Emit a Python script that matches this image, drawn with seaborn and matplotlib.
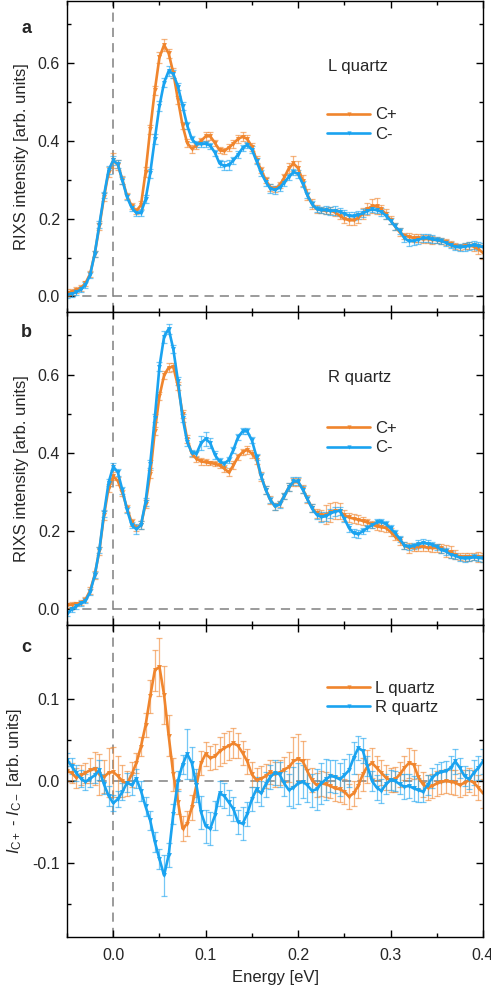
import matplotlib
matplotlib.use("Agg")
import matplotlib.pyplot as plt
import matplotlib.ticker as mticker
from matplotlib.lines import Line2D
import numpy as np
import pandas as pd
import seaborn as sns

# ---------------- data ----------------
energy = [
    -0.050, -0.045, -0.040, -0.035, -0.030, -0.025, -0.020, -0.015, -0.010, -0.005,
    0.000, 0.005, 0.010, 0.015, 0.020, 0.025, 0.030, 0.035, 0.040, 0.045,
    0.050, 0.055, 0.060, 0.065, 0.070, 0.075, 0.080, 0.085, 0.090, 0.095,
    0.100, 0.105, 0.110, 0.115, 0.120, 0.125, 0.130, 0.135, 0.140, 0.145,
    0.150, 0.155, 0.160, 0.165, 0.170, 0.175, 0.180, 0.185, 0.190, 0.195,
    0.200, 0.205, 0.210, 0.215, 0.220, 0.225, 0.230, 0.235, 0.240, 0.245,
    0.250, 0.255, 0.260, 0.265, 0.270, 0.275, 0.280, 0.285, 0.290, 0.295,
    0.300, 0.305, 0.310, 0.315, 0.320, 0.325, 0.330, 0.335, 0.340, 0.345,
    0.350, 0.355, 0.360, 0.365, 0.370, 0.375, 0.380, 0.385, 0.390, 0.395,
    0.400]

# panel a (L quartz)
a_cplus = [
    0.010, 0.012, 0.016, 0.022, 0.034, 0.058, 0.110, 0.180, 0.255, 0.320,
    0.350, 0.338, 0.300, 0.258, 0.232, 0.220, 0.235, 0.320, 0.430, 0.530,
    0.615, 0.647, 0.625, 0.575, 0.506, 0.440, 0.395, 0.380, 0.388, 0.400,
    0.412, 0.412, 0.395, 0.376, 0.374, 0.383, 0.393, 0.405, 0.411, 0.405,
    0.385, 0.352, 0.325, 0.300, 0.280, 0.277, 0.286, 0.306, 0.330, 0.342,
    0.330, 0.298, 0.262, 0.238, 0.225, 0.222, 0.220, 0.221, 0.216, 0.208,
    0.200, 0.196, 0.196, 0.202, 0.213, 0.225, 0.232, 0.232, 0.224, 0.212,
    0.196, 0.180, 0.165, 0.156, 0.154, 0.150, 0.150, 0.147, 0.148, 0.146,
    0.145, 0.142, 0.140, 0.134, 0.130, 0.128, 0.130, 0.131, 0.128, 0.122,
    0.112]
a_cminus = [
    0.005, 0.007, 0.011, 0.018, 0.030, 0.055, 0.110, 0.185, 0.260, 0.325,
    0.350, 0.340, 0.298, 0.255, 0.228, 0.215, 0.215, 0.250, 0.317, 0.405,
    0.490, 0.550, 0.580, 0.572, 0.540, 0.490, 0.440, 0.405, 0.392, 0.392,
    0.393, 0.388, 0.370, 0.342, 0.336, 0.338, 0.350, 0.365, 0.382, 0.390,
    0.378, 0.348, 0.318, 0.295, 0.277, 0.274, 0.280, 0.293, 0.308, 0.320,
    0.315, 0.290, 0.260, 0.238, 0.225, 0.222, 0.222, 0.220, 0.221, 0.218,
    0.213, 0.208, 0.206, 0.210, 0.214, 0.220, 0.224, 0.222, 0.218, 0.208,
    0.195, 0.180, 0.168, 0.150, 0.142, 0.143, 0.146, 0.150, 0.150, 0.147,
    0.145, 0.143, 0.138, 0.132, 0.128, 0.126, 0.128, 0.130, 0.132, 0.130,
    0.127]
a_cplus_err = [
    0.008, 0.008, 0.008, 0.007, 0.007, 0.007, 0.008, 0.010, 0.010, 0.012,
    0.020, 0.012, 0.010, 0.008, 0.008, 0.008, 0.010, 0.012, 0.012, 0.012,
    0.015, 0.015, 0.012, 0.012, 0.010, 0.010, 0.010, 0.010, 0.008, 0.008,
    0.012, 0.010, 0.008, 0.008, 0.008, 0.008, 0.010, 0.010, 0.012, 0.010,
    0.010, 0.010, 0.008, 0.008, 0.008, 0.008, 0.008, 0.010, 0.012, 0.020,
    0.018, 0.015, 0.015, 0.012, 0.010, 0.008, 0.008, 0.008, 0.008, 0.010,
    0.010, 0.012, 0.012, 0.012, 0.015, 0.015, 0.018, 0.020, 0.012, 0.012,
    0.010, 0.010, 0.010, 0.008, 0.008, 0.010, 0.010, 0.010, 0.010, 0.010,
    0.008, 0.008, 0.008, 0.008, 0.008, 0.008, 0.008, 0.010, 0.010, 0.012,
    0.015]
a_cminus_err = [
    0.008, 0.008, 0.007, 0.007, 0.007, 0.007, 0.008, 0.008, 0.008, 0.010,
    0.012, 0.010, 0.008, 0.008, 0.008, 0.008, 0.008, 0.010, 0.012, 0.012,
    0.012, 0.012, 0.012, 0.010, 0.010, 0.010, 0.010, 0.008, 0.008, 0.008,
    0.008, 0.008, 0.008, 0.008, 0.012, 0.012, 0.010, 0.008, 0.008, 0.008,
    0.008, 0.008, 0.008, 0.010, 0.012, 0.010, 0.008, 0.008, 0.008, 0.008,
    0.010, 0.008, 0.008, 0.008, 0.008, 0.008, 0.010, 0.010, 0.012, 0.010,
    0.010, 0.010, 0.010, 0.010, 0.010, 0.008, 0.008, 0.008, 0.010, 0.008,
    0.008, 0.008, 0.008, 0.010, 0.012, 0.010, 0.010, 0.010, 0.010, 0.010,
    0.008, 0.008, 0.008, 0.008, 0.008, 0.008, 0.010, 0.010, 0.010, 0.010,
    0.010]

# panel b (R quartz)
b_cplus = [
    0.010, 0.012, 0.014, 0.017, 0.025, 0.048, 0.088, 0.150, 0.240, 0.310,
    0.340, 0.328, 0.298, 0.258, 0.222, 0.208, 0.215, 0.270, 0.345, 0.455,
    0.545, 0.598, 0.618, 0.620, 0.571, 0.500, 0.435, 0.398, 0.385, 0.378,
    0.376, 0.374, 0.372, 0.368, 0.360, 0.350, 0.368, 0.390, 0.402, 0.408,
    0.398, 0.383, 0.340, 0.306, 0.280, 0.263, 0.270, 0.290, 0.312, 0.325,
    0.325, 0.308, 0.282, 0.260, 0.245, 0.240, 0.242, 0.248, 0.252, 0.252,
    0.240, 0.235, 0.232, 0.229, 0.226, 0.222, 0.217, 0.212, 0.210, 0.208,
    0.198, 0.186, 0.175, 0.163, 0.157, 0.158, 0.160, 0.160, 0.158, 0.157,
    0.157, 0.156, 0.150, 0.146, 0.140, 0.135, 0.134, 0.134, 0.135, 0.134,
    0.133]
b_cminus = [
    -0.012, 0.000, 0.008, 0.015, 0.022, 0.044, 0.087, 0.152, 0.245, 0.324,
    0.365, 0.350, 0.304, 0.254, 0.215, 0.205, 0.215, 0.275, 0.372, 0.490,
    0.620, 0.697, 0.717, 0.665, 0.584, 0.490, 0.428, 0.400, 0.398, 0.425,
    0.436, 0.425, 0.395, 0.378, 0.372, 0.382, 0.408, 0.440, 0.455, 0.455,
    0.432, 0.390, 0.340, 0.305, 0.280, 0.263, 0.268, 0.290, 0.312, 0.327,
    0.327, 0.306, 0.282, 0.258, 0.242, 0.236, 0.238, 0.245, 0.250, 0.252,
    0.232, 0.208, 0.195, 0.192, 0.200, 0.208, 0.215, 0.222, 0.224, 0.218,
    0.207, 0.195, 0.180, 0.163, 0.160, 0.162, 0.166, 0.170, 0.168, 0.165,
    0.160, 0.152, 0.148, 0.140, 0.137, 0.132, 0.130, 0.131, 0.133, 0.132,
    0.130]
b_cplus_err = [
    0.006, 0.006, 0.006, 0.006, 0.007, 0.008, 0.010, 0.010, 0.012, 0.010,
    0.010, 0.010, 0.008, 0.008, 0.008, 0.008, 0.010, 0.010, 0.010, 0.010,
    0.010, 0.010, 0.012, 0.010, 0.010, 0.010, 0.010, 0.008, 0.008, 0.008,
    0.008, 0.006, 0.006, 0.006, 0.008, 0.010, 0.010, 0.008, 0.008, 0.010,
    0.010, 0.012, 0.012, 0.010, 0.010, 0.008, 0.008, 0.008, 0.010, 0.010,
    0.010, 0.010, 0.010, 0.010, 0.012, 0.015, 0.025, 0.025, 0.022, 0.020,
    0.015, 0.012, 0.012, 0.012, 0.010, 0.010, 0.010, 0.010, 0.010, 0.010,
    0.010, 0.010, 0.010, 0.010, 0.012, 0.010, 0.010, 0.010, 0.010, 0.010,
    0.010, 0.012, 0.015, 0.015, 0.012, 0.010, 0.010, 0.010, 0.010, 0.012,
    0.012]
b_cminus_err = [
    0.006, 0.006, 0.006, 0.006, 0.007, 0.008, 0.008, 0.008, 0.010, 0.010,
    0.010, 0.008, 0.008, 0.008, 0.008, 0.012, 0.010, 0.010, 0.010, 0.010,
    0.012, 0.015, 0.012, 0.010, 0.010, 0.010, 0.010, 0.008, 0.008, 0.018,
    0.018, 0.012, 0.010, 0.008, 0.008, 0.008, 0.008, 0.008, 0.008, 0.008,
    0.008, 0.008, 0.008, 0.010, 0.008, 0.008, 0.008, 0.008, 0.010, 0.010,
    0.010, 0.008, 0.008, 0.010, 0.010, 0.012, 0.012, 0.012, 0.012, 0.010,
    0.010, 0.010, 0.010, 0.010, 0.008, 0.008, 0.008, 0.008, 0.008, 0.008,
    0.008, 0.008, 0.008, 0.008, 0.008, 0.008, 0.010, 0.010, 0.010, 0.008,
    0.008, 0.008, 0.008, 0.008, 0.008, 0.008, 0.008, 0.008, 0.008, 0.008,
    0.010]

# panel c (difference I_C+ - I_C-)
c_lquartz = [
    0.012, 0.010, 0.004, 0.007, 0.010, 0.013, 0.015, 0.008, 0.005, 0.010,
    0.011, 0.006, 0.000, -0.003, 0.008, 0.022, 0.042, 0.068, 0.103, 0.135,
    0.139, 0.105, 0.055, 0.008, -0.025, -0.058, -0.052, -0.032, -0.005, 0.022,
    0.033, 0.028, 0.030, 0.036, 0.040, 0.043, 0.046, 0.043, 0.034, 0.024,
    0.008, 0.001, 0.003, 0.006, 0.011, 0.008, 0.010, 0.014, 0.017, 0.024,
    0.027, 0.024, 0.012, 0.001, -0.005, -0.003, -0.004, -0.006, -0.009, -0.010,
    -0.013, -0.019, -0.015, -0.006, 0.008, 0.018, 0.022, 0.016, 0.010, 0.004,
    0.001, 0.002, 0.008, 0.016, 0.022, 0.020, 0.005, -0.004, -0.008, -0.006,
    -0.003, -0.001, 0.000, -0.001, -0.002, -0.005, -0.002, 0.001, -0.002, -0.008,
    -0.015]
c_rquartz = [
    0.026, 0.018, 0.010, 0.003, -0.001, 0.003, 0.007, 0.013, -0.004, -0.018,
    -0.027, -0.022, -0.013, -0.002, -0.005, 0.003, -0.012, -0.031, -0.048, -0.074,
    -0.095, -0.115, -0.090, -0.040, 0.000, 0.020, 0.033, 0.022, -0.005, -0.038,
    -0.055, -0.058, -0.042, -0.015, -0.018, -0.026, -0.034, -0.050, -0.052, -0.040,
    -0.022, -0.010, -0.015, -0.004, 0.005, 0.010, 0.008, -0.003, -0.011, -0.008,
    -0.003, -0.001, -0.005, -0.012, -0.010, -0.003, 0.002, 0.006, 0.005, 0.002,
    0.007, 0.013, 0.028, 0.040, 0.037, 0.018, 0.000, -0.008, -0.012, -0.004,
    0.001, 0.000, -0.004, -0.007, -0.006, -0.009, -0.011, -0.013, -0.005, 0.004,
    0.009, 0.011, 0.012, 0.016, 0.024, 0.016, 0.006, 0.002, 0.010, 0.016,
    0.024]
c_lquartz_err = [
    0.012, 0.012, 0.012, 0.012, 0.012, 0.015, 0.020, 0.025, 0.020, 0.030,
    0.030, 0.025, 0.020, 0.015, 0.015, 0.012, 0.012, 0.015, 0.020, 0.025,
    0.035, 0.035, 0.025, 0.020, 0.015, 0.015, 0.015, 0.015, 0.015, 0.015,
    0.015, 0.015, 0.015, 0.018, 0.018, 0.018, 0.018, 0.015, 0.015, 0.015,
    0.015, 0.015, 0.015, 0.015, 0.015, 0.015, 0.015, 0.015, 0.018, 0.030,
    0.030, 0.025, 0.015, 0.015, 0.015, 0.015, 0.015, 0.015, 0.015, 0.015,
    0.015, 0.015, 0.015, 0.015, 0.020, 0.020, 0.018, 0.015, 0.015, 0.015,
    0.015, 0.015, 0.015, 0.015, 0.018, 0.018, 0.015, 0.015, 0.015, 0.015,
    0.015, 0.015, 0.015, 0.015, 0.015, 0.015, 0.015, 0.015, 0.015, 0.015,
    0.018]
c_rquartz_err = [
    0.008, 0.010, 0.010, 0.010, 0.010, 0.010, 0.010, 0.012, 0.012, 0.012,
    0.010, 0.010, 0.010, 0.012, 0.012, 0.012, 0.012, 0.012, 0.012, 0.012,
    0.012, 0.025, 0.015, 0.012, 0.012, 0.012, 0.030, 0.020, 0.020, 0.020,
    0.020, 0.020, 0.018, 0.015, 0.015, 0.015, 0.015, 0.015, 0.020, 0.015,
    0.015, 0.015, 0.015, 0.015, 0.015, 0.015, 0.015, 0.015, 0.020, 0.025,
    0.025, 0.020, 0.020, 0.020, 0.025, 0.025, 0.025, 0.020, 0.020, 0.020,
    0.020, 0.020, 0.020, 0.015, 0.015, 0.012, 0.012, 0.015, 0.015, 0.012,
    0.012, 0.012, 0.012, 0.015, 0.015, 0.015, 0.015, 0.012, 0.012, 0.012,
    0.012, 0.012, 0.012, 0.015, 0.015, 0.012, 0.012, 0.012, 0.015, 0.015,
    0.015]

panel_letters = ["a", "b", "c"]
panel_titles = ["L quartz", "R quartz", None]
legend_labels = [["C+", "C-"], ["C+", "C-"], ["L quartz", "R quartz"]]

ORANGE = "#F0852D"
BLUE = "#1AA3F0"

# ---------------- style ----------------
sns.set_theme(style="ticks")
plt.rcParams["font.family"] = ["Liberation Sans", "DejaVu Sans"]
plt.rcParams["mathtext.fontset"] = "custom"
plt.rcParams["mathtext.rm"] = "Liberation Sans"
plt.rcParams["mathtext.it"] = "Liberation Sans:italic"
plt.rcParams["axes.unicode_minus"] = False
plt.rcParams["axes.linewidth"] = 1.0
plt.rcParams["axes.edgecolor"] = "black"

W, H = 491, 992
fig = plt.figure(figsize=(W / 100, H / 100), dpi=100)

left = 67 / W
width = 416 / W
tops = [1, 312, 625]
bots = [312, 625, 937]

datasets = [
    (a_cplus, a_cplus_err, a_cminus, a_cminus_err),
    (b_cplus, b_cplus_err, b_cminus, b_cminus_err),
    (c_lquartz, c_lquartz_err, c_rquartz, c_rquartz_err),
]
ylims = [(-0.04, 0.76), (-0.04, 0.76), (-0.19, 0.19)]
letter_y = [0.897, 0.92, 0.913]
legend_y = [0.658, 0.651, 0.822]
title_y = [0.79, 0.79]

axes = []
for i in range(3):
    ax = fig.add_axes([left, 1 - bots[i] / H, width, (bots[i] - tops[i]) / H])
    axes.append(ax)
    s1, e1, s2, e2 = datasets[i]
    lab1, lab2 = legend_labels[i]
    df = pd.DataFrame({
        "Energy": energy + energy,
        "Value": s1 + s2,
        "Series": [lab1] * len(energy) + [lab2] * len(energy),
    })
    # reference lines
    ax.axhline(0, color="#808080", lw=1.1, ls=(0, (6, 4)), zorder=0.5)
    ax.axvline(0, color="#808080", lw=1.1, ls=(0, (6, 4)), zorder=0.5)
    # error bars
    for s, e, c in [(s1, e1, ORANGE), (s2, e2, BLUE)]:
        ax.errorbar(energy, s, yerr=e, fmt="none", ecolor=c, alpha=0.6,
                    elinewidth=0.9, capsize=2.0, capthick=0.9, zorder=1.5)
    sns.lineplot(data=df, x="Energy", y="Value", hue="Series",
                 palette={lab1: ORANGE, lab2: BLUE}, marker="v",
                 markersize=3.5, markeredgewidth=0, linewidth=1.9,
                 errorbar=None, sort=False, legend=False, ax=ax, zorder=2)

    ax.set_xlim(-0.05, 0.4)
    ax.set_ylim(*ylims[i])
    ax.xaxis.set_major_locator(mticker.MultipleLocator(0.1))
    ax.xaxis.set_minor_locator(mticker.MultipleLocator(0.05))
    if i < 2:
        ax.yaxis.set_major_locator(mticker.MultipleLocator(0.2))
        ax.yaxis.set_minor_locator(mticker.MultipleLocator(0.1))
    else:
        ax.yaxis.set_major_locator(mticker.MultipleLocator(0.1))
        ax.yaxis.set_minor_locator(mticker.MultipleLocator(0.05))
    ax.yaxis.set_major_formatter(mticker.FormatStrFormatter("%.1f"))
    ax.xaxis.set_major_formatter(mticker.FormatStrFormatter("%.1f"))
    ax.tick_params(which="both", direction="in", top=True, right=True,
                   width=1.0, color="black", labelsize=11.5)
    ax.tick_params(axis="y", pad=5)
    ax.tick_params(axis="x", pad=8)
    ax.tick_params(which="major", length=5)
    ax.tick_params(which="minor", length=3)
    for sp in ax.spines.values():
        sp.set_visible(True)
        sp.set_linewidth(1.0)
        sp.set_color("black")

    if i < 2:
        ax.set_xticklabels([])
        ax.set_xlabel("")
        ax.set_ylabel("RIXS intensity [arb. units]", fontsize=12, labelpad=6)
    else:
        ax.set_xlabel("Energy [eV]", fontsize=12, labelpad=5)
        ax.set_ylabel(r"$I_{\mathrm{C+}}$ - $I_{\mathrm{C-}}$ [arb. units]",
                      fontsize=12, labelpad=6)

    ax.text(-0.11, letter_y[i], panel_letters[i], transform=ax.transAxes,
            fontsize=13, fontweight="bold", va="baseline", ha="left")
    if panel_titles[i]:
        ax.text(0.627, title_y[i], panel_titles[i], transform=ax.transAxes,
                fontsize=12, va="center", ha="left")

    handles = [Line2D([], [], color=ORANGE, lw=1.9, marker="v", markersize=3,
                      markeredgewidth=0),
               Line2D([], [], color=BLUE, lw=1.9, marker="v", markersize=3,
                      markeredgewidth=0)]
    ax.legend(handles, [lab1, lab2], loc="upper left",
              bbox_to_anchor=(0.625, legend_y[i]), frameon=False,
              fontsize=12, handlelength=2.6, handletextpad=0.3,
              labelspacing=0.25, borderpad=0, borderaxespad=0, numpoints=1)

fig.savefig("out.png", dpi=100)
